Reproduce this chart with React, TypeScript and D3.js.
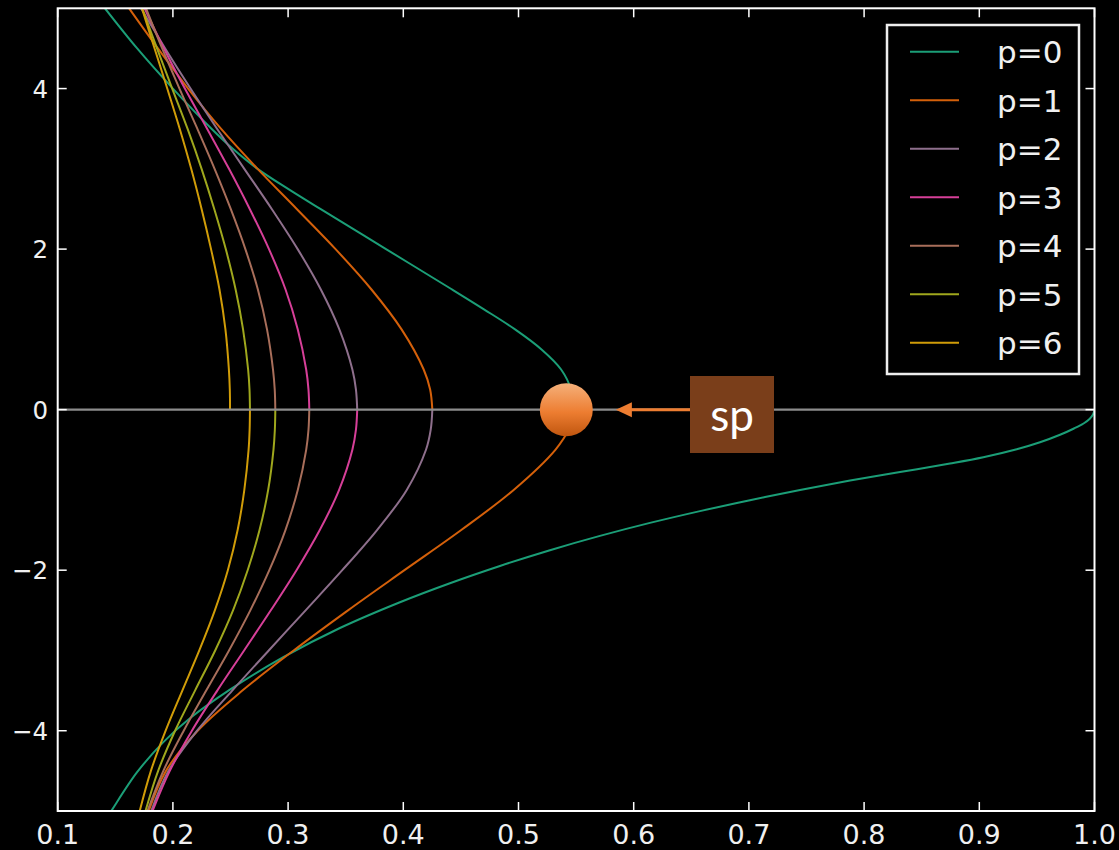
import React from "react";
import * as d3 from "d3";

type Pt = [number, number]; // [x, y]

// Upper branches (y >= 0), listed from the top edge down to y = 0
const p0Upper: Pt[] = [[0.141, 5], [0.169, 4.5], [0.2, 4], [0.2335, 3.5], [0.252, 3.25], [0.2735, 3], [0.3, 2.75], [0.328, 2.5], [0.385, 2], [0.442, 1.5], [0.47, 1.25], [0.497, 1], [0.52, 0.75], [0.537, 0.5], [0.5455, 0.25], [0.547, 0]];
const p1Upper: Pt[] = [[0.162, 5], [0.187, 4.5], [0.2132, 4], [0.2417, 3.5], [0.2735, 3], [0.3075, 2.5], [0.3412, 2], [0.3722, 1.5], [0.3985, 1], [0.4177, 0.5], [0.4233, 0.25], [0.4252, 0]];
const p2Upper: Pt[] = [[0.1723, 5], [0.1933, 4.5], [0.2153, 4], [0.2383, 3.5], [0.262, 3], [0.2858, 2.5], [0.3083, 2], [0.3283, 1.5], [0.3445, 1], [0.3558, 0.5], [0.3589, 0.25], [0.36, 0]];
const p3Upper: Pt[] = [[0.1754, 5], [0.1922, 4.5], [0.2104, 4], [0.2297, 3.5], [0.2487, 3], [0.2667, 2.5], [0.2834, 2], [0.2977, 1.5], [0.3084, 1], [0.3157, 0.5], [0.3177, 0.25], [0.3184, 0]];
const p4Upper: Pt[] = [[0.1767, 5], [0.1907, 4.5], [0.2057, 4], [0.2212, 3.5], [0.2362, 3], [0.2502, 2.5], [0.2629, 2], [0.2737, 1.5], [0.2817, 1], [0.2869, 0.5], [0.2884, 0.25], [0.2889, 0]];
const p5Upper: Pt[] = [[0.1734, 5], [0.1862, 4.5], [0.1994, 4], [0.2127, 3.5], [0.2249, 3], [0.2359, 2.5], [0.2459, 2], [0.2544, 1.5], [0.2609, 1], [0.2653, 0.5], [0.2665, 0.25], [0.2669, 0]];
const p6Upper: Pt[] = [[0.1731, 5], [0.1841, 4.5], [0.1951, 4], [0.2059, 3.5], [0.2159, 3], [0.2249, 2.5], [0.2331, 2], [0.2404, 1.5], [0.2456, 1], [0.2486, 0.5], [0.2494, 0.25], [0.2496, 0]];

// Lower branches (y <= 0), listed from y = 0 down to the bottom edge
const p0Lower: Pt[] = [[1.0, 0], [0.9987, -0.0604], [0.9957, -0.1165], [0.9905, -0.1725], [0.9822, -0.2348], [0.9701, -0.3133], [0.9527, -0.4068], [0.9325, -0.494], [0.9035, -0.5936], [0.8746, -0.6721], [0.8312, -0.778], [0.7878, -0.8839], [0.7444, -1.001], [0.7009, -1.1281], [0.6575, -1.2639], [0.6141, -1.4109], [0.5707, -1.5728], [0.5273, -1.751], [0.4839, -1.9472], [0.4405, -2.1621], [0.3971, -2.3988], [0.345, -2.7202], [0.2958, -3.084], [0.2495, -3.4889], [0.2148, -3.8452], [0.1917, -4.1417], [0.1686, -4.5229], [0.1469, -4.99], [0.1458, -5.0125]];
const p1Lower: Pt[] = [[0.547, 0], [0.5433, -0.25], [0.532, -0.5], [0.4958, -1], [0.4503, -1.5], [0.401, -2], [0.352, -2.5], [0.3048, -3], [0.2603, -3.5], [0.2215, -4], [0.194, -4.5], [0.179, -5]];
const p2Lower: Pt[] = [[0.4252, 0], [0.4238, -0.25], [0.4197, -0.5], [0.403, -1], [0.3772, -1.5], [0.347, -2], [0.3152, -2.5], [0.2832, -3], [0.2515, -3.5], [0.221, -4], [0.1962, -4.5], [0.1812, -5]];
const p3Lower: Pt[] = [[0.36, 0], [0.3589, -0.25], [0.3558, -0.5], [0.3443, -1], [0.3275, -1.5], [0.3073, -2], [0.285, -2.5], [0.2618, -3], [0.2385, -3.5], [0.2165, -4], [0.1973, -4.5], [0.1823, -5]];
const p4Lower: Pt[] = [[0.3184, 0], [0.3177, -0.25], [0.3157, -0.5], [0.3084, -1], [0.2977, -1.5], [0.2837, -2], [0.2672, -2.5], [0.2487, -3], [0.2289, -3.5], [0.2094, -4], [0.1917, -4.5], [0.1779, -5]];
const p5Lower: Pt[] = [[0.2889, 0], [0.2885, -0.25], [0.2873, -0.5], [0.2827, -1], [0.2752, -1.5], [0.2649, -2], [0.2522, -2.5], [0.2367, -3], [0.2192, -3.5], [0.2019, -4], [0.1872, -4.5], [0.1762, -5]];
const p6Lower: Pt[] = [[0.2669, 0], [0.2666, -0.25], [0.2657, -0.5], [0.262, -1], [0.2562, -1.5], [0.2477, -2], [0.2364, -2.5], [0.2229, -3], [0.2082, -3.5], [0.1937, -4], [0.1809, -4.5], [0.1712, -5]];

const seriesLabels = ["p=0", "p=1", "p=2", "p=3", "p=4", "p=5", "p=6"];
const seriesColors = ["#1b9e77", "#d4600a", "#8e6f8c", "#d63f98", "#a86e5a", "#9fa71d", "#d09c08"];
const upperBranches = [p0Upper, p1Upper, p2Upper, p3Upper, p4Upper, p5Upper, p6Upper];
const lowerBranches = [p0Lower, p1Lower, p2Lower, p3Lower, p4Lower, p5Lower, p6Lower];

const xTicks = [0.1, 0.2, 0.3, 0.4, 0.5, 0.6, 0.7, 0.8, 0.9, 1.0];
const yTicks = [-4, -2, 0, 2, 4];

// Annotation: the marked point, its arrow and its label
const spPoint: Pt = [0.5415, 0];
const spLabel = "sp";
const spArrowFrom: Pt = [0.6565, 0];
const spArrowTo: Pt = [0.5845, 0];

const W = 1119;
const H = 850;
const plot = { left: 57.7, right: 1094.5, top: 8.3, bottom: 811 };

export default function App() {
  const x = d3.scaleLinear().domain([0.1, 1.0]).range([plot.left, plot.right]);
  const y = d3.scaleLinear().domain([-5, 5]).range([plot.bottom, plot.top]);
  const line = d3
    .line<Pt>()
    .x((d) => x(d[0]))
    .y((d) => y(d[1]))
    .curve(d3.curveCatmullRom.alpha(0.5));

  const tickFont = "'DejaVu Sans', sans-serif";
  const tickLen = 9;
  const frame = "#ffffff";

  const legend = { x: 887, y: 25, w: 192, h: 349, row0: 51.7, dy: 48.5 };

  const cx = x(spPoint[0]);
  const cy = y(spPoint[1]);
  const ax0 = x(spArrowFrom[0]);
  const ax1 = x(spArrowTo[0]);
  const ay = y(spArrowFrom[1]);

  return (
    <svg
      width={W}
      height={H}
      style={{ position: "absolute", left: 0, top: 0, background: "#000" }}
    >
      <defs>
        <clipPath id="plotClip">
          <rect x={plot.left} y={plot.top} width={plot.right - plot.left} height={plot.bottom - plot.top} />
        </clipPath>
        <linearGradient id="spGrad" x1="0" y1="0" x2="0" y2="1">
          <stop offset="0%" stopColor="#f5b07a" />
          <stop offset="55%" stopColor="#ed7d31" />
          <stop offset="100%" stopColor="#c0560f" />
        </linearGradient>
      </defs>
      <rect x={0} y={0} width={W} height={H} fill="#000" />

      {/* curves */}
      <g clipPath="url(#plotClip)" fill="none" strokeWidth={2}>
        {upperBranches.map((pts, i) => (
          <path key={"u" + i} d={line(pts) || ""} stroke={seriesColors[i]} />
        ))}
        {lowerBranches.map((pts, i) => (
          <path key={"l" + i} d={line(pts) || ""} stroke={seriesColors[i]} />
        ))}
        {/* zero reference line */}
        <line x1={plot.left} x2={plot.right} y1={y(0)} y2={y(0)} stroke="#8c8c8c" strokeWidth={2.2} />
      </g>

      {/* frame */}
      <rect
        x={plot.left}
        y={plot.top}
        width={plot.right - plot.left}
        height={plot.bottom - plot.top}
        fill="none"
        stroke={frame}
        strokeWidth={2}
      />

      {/* x ticks, bottom and top */}
      {xTicks.map((t) => (
        <g key={"xt" + t}>
          <line x1={x(t)} x2={x(t)} y1={plot.bottom} y2={plot.bottom - tickLen} stroke={frame} strokeWidth={1.5} />
          <line x1={x(t)} x2={x(t)} y1={plot.top} y2={plot.top + tickLen} stroke={frame} strokeWidth={1.5} />
          <text x={x(t)} y={843.5} fill="#f0f0f0" fontFamily={tickFont} fontSize={27} textAnchor="middle">
            {t.toFixed(1)}
          </text>
        </g>
      ))}

      {/* y ticks, left and right */}
      {yTicks.map((t) => (
        <g key={"yt" + t}>
          <line x1={plot.left} x2={plot.left + tickLen} y1={y(t)} y2={y(t)} stroke={frame} strokeWidth={1.5} />
          <line x1={plot.right} x2={plot.right - tickLen} y1={y(t)} y2={y(t)} stroke={frame} strokeWidth={1.5} />
          <text x={48} y={y(t) + 9} fill="#f0f0f0" fontFamily={tickFont} fontSize={24.5} textAnchor="end">
            {t < 0 ? "\u2212" + Math.abs(t) : String(t)}
          </text>
        </g>
      ))}

      {/* legend */}
      <g>
        <rect x={legend.x} y={legend.y} width={legend.w} height={legend.h} fill="#000" stroke="#eeeeee" strokeWidth={2.5} />
        {seriesLabels.map((lab, i) => {
          const ly = legend.row0 + i * legend.dy;
          return (
            <g key={lab}>
              <line x1={910} x2={959} y1={ly} y2={ly} stroke={seriesColors[i]} strokeWidth={2} />
              <text x={997} y={ly + 11.5} fill="#f0f0f0" fontFamily={tickFont} fontSize={31}>
                {lab}
              </text>
            </g>
          );
        })}
      </g>

      {/* annotation */}
      <circle cx={cx} cy={cy} r={26.5} fill="url(#spGrad)" />
      <line x1={ax0} x2={ax1 + 10} y1={ay} y2={ay} stroke="#ed7d31" strokeWidth={3} />
      <path d={`M${ax1},${ay} L${ax1 + 16},${ay - 7.5} L${ax1 + 16},${ay + 7.5} Z`} fill="#ed7d31" />
      <rect x={690} y={376} width={84} height={77} fill="#7a3e1a" />
      <text
        x={732}
        y={431}
        fill="#ffffff"
        fontFamily="Lato, 'Open Sans', sans-serif"
        fontSize={44}
        textAnchor="middle"
      >
        {spLabel}
      </text>
    </svg>
  );
}
